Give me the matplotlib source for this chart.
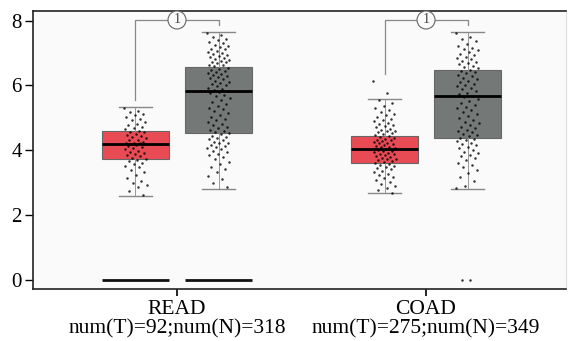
import numpy as np
import matplotlib.pyplot as plt

plt.rcParams['font.family'] = ['Liberation Serif', 'DejaVu Serif']

# group labels
groups = ['READ', 'COAD']
counts = [(92, 318), (275, 349)]

# box summaries: (whislo, q1, med, q3, whishi)
box_tumor = [(2.59, 3.74, 4.19, 4.58, 5.33), (2.68, 3.61, 4.04, 4.45, 5.57)]
box_normal = [(2.82, 4.52, 5.84, 6.56, 7.64), (2.82, 4.37, 5.69, 6.48, 7.65)]

# jittered samples (approximate)
read_t = [5.31, 5.22, 5.18, 5.12, 5.09, 5.03, 4.97, 4.94, 4.88, 4.81, 4.79, 4.72,
          4.69, 4.66, 4.61, 4.57, 4.55, 4.49, 4.46, 4.43, 4.41, 4.37, 4.33, 4.31,
          4.27, 4.24, 4.22, 4.21, 4.19, 4.18, 4.16, 4.13, 4.11, 4.07, 4.04, 3.99,
          3.96, 3.93, 3.88, 3.84, 3.81, 3.77, 3.74, 3.71, 3.66, 3.62, 3.58, 3.51,
          3.47, 3.39, 3.32, 3.24, 3.15, 3.06, 2.98, 2.93, 2.86, 2.74, 2.61]
read_n = [7.62, 7.55, 7.48, 7.44, 7.39, 7.33, 7.31, 7.26, 7.21, 7.18, 7.14, 7.11,
          7.07, 7.03, 7.01, 6.97, 6.94, 6.91, 6.88, 6.86, 6.82, 6.79, 6.77, 6.73,
          6.71, 6.68, 6.64, 6.62, 6.59, 6.55, 6.52, 6.49, 6.46, 6.43, 6.39, 6.36,
          6.33, 6.29, 6.26, 6.22, 6.19, 6.15, 6.12, 6.08, 6.04, 6.01, 5.97, 5.93,
          5.89, 5.86, 5.84, 5.81, 5.77, 5.72, 5.66, 5.61, 5.55, 5.49, 5.43, 5.38,
          5.31, 5.26, 5.21, 5.14, 5.09, 5.03, 4.97, 4.92, 4.86, 4.81, 4.77, 4.72,
          4.68, 4.63, 4.59, 4.55, 4.52, 4.49, 4.45, 4.42, 4.38, 4.34, 4.31, 4.27,
          4.24, 4.21, 4.17, 4.14, 4.11, 4.07, 4.03, 3.98, 3.94, 3.89, 3.84, 3.78,
          3.72, 3.65, 3.58, 3.49, 3.41, 3.33, 3.22, 3.11, 2.98, 2.86]
coad_t = [6.15, 5.76, 5.55, 5.46, 5.38, 5.31, 5.24, 5.19, 5.13, 5.08, 5.02, 4.97,
          4.93, 4.89, 4.84, 4.81, 4.77, 4.74, 4.71, 4.67, 4.64, 4.61, 4.58, 4.55,
          4.52, 4.49, 4.46, 4.44, 4.41, 4.38, 4.36, 4.33, 4.31, 4.28, 4.26, 4.23,
          4.21, 4.18, 4.16, 4.13, 4.11, 4.09, 4.06, 4.04, 4.02, 3.99, 3.97, 3.94,
          3.92, 3.89, 3.87, 3.84, 3.82, 3.79, 3.77, 3.74, 3.72, 3.69, 3.66, 3.63,
          3.61, 3.58, 3.55, 3.52, 3.48, 3.44, 3.41, 3.37, 3.33, 3.28, 3.24, 3.19,
          3.14, 3.09, 3.03, 2.97, 2.91, 2.84, 2.76, 2.69]
coad_n = [7.63, 7.51, 7.42, 7.36, 7.29, 7.22, 7.17, 7.12, 7.08, 7.02, 6.98, 6.93,
          6.89, 6.85, 6.81, 6.77, 6.73, 6.69, 6.65, 6.61, 6.57, 6.53, 6.49, 6.45,
          6.41, 6.37, 6.33, 6.28, 6.24, 6.19, 6.15, 6.11, 6.06, 6.02, 5.97, 5.93,
          5.88, 5.83, 5.78, 5.73, 5.69, 5.64, 5.58, 5.52, 5.46, 5.41, 5.35, 5.29,
          5.23, 5.17, 5.11, 5.05, 4.99, 4.94, 4.88, 4.83, 4.78, 4.73, 4.68, 4.64,
          4.59, 4.55, 4.51, 4.47, 4.43, 4.39, 4.36, 4.32, 4.28, 4.24, 4.19, 4.15,
          4.11, 4.06, 4.01, 3.96, 3.91, 3.86, 3.81, 3.75, 3.69, 3.62, 3.55, 3.47,
          3.38, 3.29, 3.18, 3.05, 2.91, 2.83, 0.0, 0.0]
samples_tumor = [read_t, coad_t]
samples_normal = [read_n, coad_n]

# READ has flat bars at zero for both groups
zero_bars = [True, False]

# significance bracket: (start of left leg, end of right leg, top)
brackets = [(5.55, 7.87, 8.02), (6.36, 7.87, 8.02)]

c_t = '#e94b55'
c_n = '#747877'

fig = plt.figure(figsize=(5.7, 3.41), dpi=100)
ax = fig.add_axes([0.058, 0.1525, 0.935, 0.8155])
ax.set_facecolor('#fafafa')

off = 0.1667
bw = 0.269
x = np.arange(len(groups))


def stats(b):
    lo, q1, med, q3, hi = b
    return dict(whislo=lo, q1=q1, med=med, q3=q3, whishi=hi, fliers=[])


for i in range(len(groups)):
    for pos, b, col in [(x[i] - off, box_tumor[i], c_t), (x[i] + off, box_normal[i], c_n)]:
        ax.bxp([stats(b)], positions=[pos], widths=bw, patch_artist=True,
               showfliers=False, manage_ticks=False,
               boxprops=dict(facecolor=col, edgecolor='#666666', linewidth=0.8),
               medianprops=dict(color='black', linewidth=2),
               whiskerprops=dict(color='#999999', linewidth=0.7),
               capprops=dict(color='#888888', linewidth=1.0), capwidths=bw / 2)

    for pos, vals in [(x[i] - off, samples_tumor[i]), (x[i] + off, samples_normal[i])]:
        v = np.array(vals)
        k = np.arange(len(v))
        jit = ((k * 0.6180339887) % 1.0 - 0.5) * 0.09
        ax.scatter(pos + jit, v, s=3.2, color='black', alpha=0.8, linewidths=0, zorder=5)

    if zero_bars[i]:
        for pos in [x[i] - off, x[i] + off]:
            ax.hlines(0, pos - bw / 2, pos + bw / 2, color='#111111', linewidth=2)

    lo_l, lo_r, top = brackets[i]
    xl, xr = x[i] - off, x[i] + off
    ax.plot([xl, xl, xr, xr], [lo_l, top, top, lo_r], color='#888888', linewidth=0.9)
    ax.text(x[i], top, '1', ha='center', va='center', fontsize=10, color='#444444',
            bbox=dict(boxstyle='circle,pad=0.18', facecolor='#fafafa',
                      edgecolor='#666666', linewidth=0.8))

ax.set_xlim(-0.578, 1.562)
ax.set_ylim(-0.28, 8.30)
ax.set_yticks([0, 2, 4, 6, 8])
ax.set_xticks(x)
ax.set_xticklabels([f'{g}\nnum(T)={t};num(N)={n}' for g, (t, n) in zip(groups, counts)],
                   fontsize=15.5, linespacing=1.02)
ax.tick_params(axis='y', labelsize=15, length=6, width=1, pad=2)
ax.tick_params(axis='x', length=5, width=1.2, pad=3)

for s in ['left', 'bottom', 'top']:
    ax.spines[s].set_color('#222222')
    ax.spines[s].set_linewidth(1.2)
ax.spines['right'].set_color('#dddddd')

fig.savefig('out.png', dpi=100)
